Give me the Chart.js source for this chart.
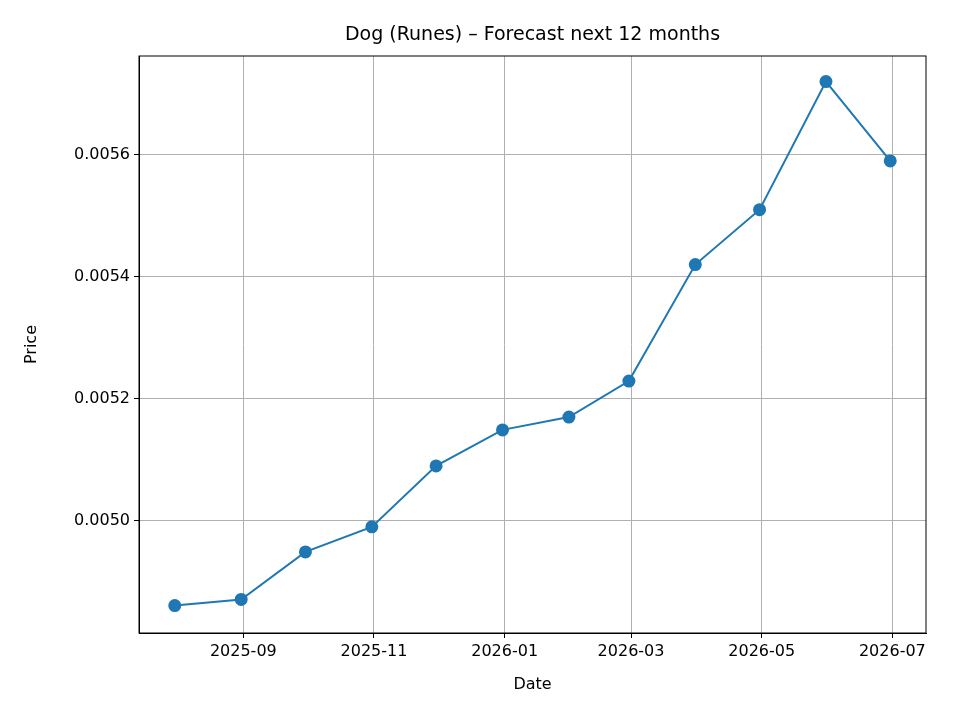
<!DOCTYPE html>
<html><head><script src="https://cdn.jsdelivr.net/npm/chart.js@4"></script>
<style>body{margin:0;background:#fff}</style></head>
<body><canvas id="c" width="960" height="720"></canvas>
<script>
const dates=["2025-07-31","2025-08-31","2025-09-30","2025-10-31","2025-11-30","2025-12-31","2026-01-31","2026-02-28","2026-03-31","2026-04-30","2026-05-31","2026-06-30"];
const prices=[0.004861,0.004871,0.004949,0.00499,0.00509,0.005149,0.00517,0.005229,0.00542,0.00551,0.00572,0.00559];
const tickLabels=["2025-09","2025-11","2026-01","2026-03","2026-05","2026-07"];
const day=s=>Date.parse(s+"T00:00:00Z")/86400000;
const xs=dates.map(day);
const span=xs[11]-xs[0];
const tickDays=tickLabels.map(t=>day(t+"-01"));
const font={family:"DejaVu Sans",size:16};
Chart.defaults.color="#000";
new Chart(document.getElementById("c"),{
type:"line",
data:{datasets:[{data:xs.map((x,i)=>({x,y:prices[i]})),borderColor:"#1f77b4",backgroundColor:"#1f77b4",borderWidth:2,pointRadius:5.5,pointHoverRadius:5.5,tension:0}]},
options:{responsive:false,animation:false,
layout:{padding:{top:56,right:34,left:22,bottom:26}},
plugins:{legend:{display:false},tooltip:{enabled:false}},
scales:{
x:{type:"linear",min:xs[0]-span*0.05,max:xs[11]+span*0.05,
afterBuildTicks:s=>{s.ticks=tickDays.map(v=>({value:v}));},
afterFit:s=>{s.height=61;},
ticks:{font,maxRotation:0,autoSkip:false,padding:4,callback:(v)=>tickLabels[tickDays.indexOf(v)]??""},
grid:{color:"#b0b0b0",tickColor:"#000",tickLength:5},border:{color:"#000"},
title:{display:true,text:"Date",font,padding:{top:0,bottom:0}}},
y:{min:0.004816,max:0.005762,
afterBuildTicks:s=>{s.ticks=[0.005,0.0052,0.0054,0.0056].map(v=>({value:v}));},
afterFit:s=>{s.width=117;},
ticks:{font,padding:4,callback:v=>v.toFixed(4)},
grid:{color:"#b0b0b0",tickColor:"#000",tickLength:5},border:{color:"#000"},
title:{display:true,text:"Price",font,padding:{top:0,bottom:0}}}
}},
plugins:[{id:"t",afterDraw(c){const g=c.ctx;g.save();g.font="19px DejaVu Sans";g.fillStyle="#000";g.textAlign="center";g.textBaseline="middle";g.fillText("Dog (Runes) – Forecast next 12 months",(c.chartArea.left+c.chartArea.right)/2,35);
g.strokeStyle="#000";g.lineWidth=1;const a=c.chartArea;g.strokeRect(a.left,a.top,a.right-a.left,a.bottom-a.top);g.restore();}}]
});
</script></body></html>
